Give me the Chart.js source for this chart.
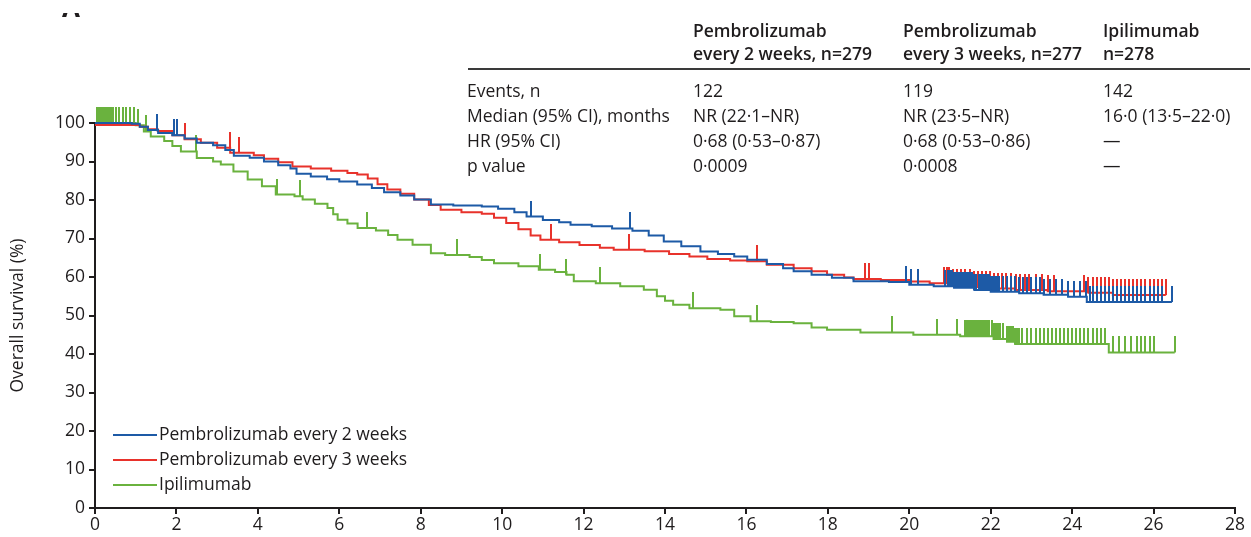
<!DOCTYPE html>
<html>
<head>
<meta charset="utf-8">
<script src="https://cdn.jsdelivr.net/npm/chart.js@4.4.1/dist/chart.umd.min.js"></script>
<style>
body { margin: 0; background: #fff; }
#wrap { position: relative; width: 1251px; height: 537px; overflow: hidden; font-family: "Open Sans", sans-serif; color: #1f1c1d; }
#wrap canvas { position: absolute; left: 0; top: 0; }
.t { position: absolute; white-space: nowrap; font-size: 17.5px; line-height: 25px; }
.h { font-weight: 600; }
.rule { position: absolute; left: 468px; width: 782px; top: 68px; height: 2px; background: #3a3a3a; }
.leg { position: absolute; left: 113px; white-space: nowrap; font-size: 17.5px; line-height: 25px; }
.leg i { display: inline-block; width: 44px; height: 2px; vertical-align: middle; margin-right: 2px; }
.panel { position: absolute; left: 58px; top: 13px; width: 40px; height: 4px; overflow: hidden; }
.panel span { position: absolute; left: 4px; top: -19px; font: 700 26px "Open Sans", sans-serif; line-height: 26px; }
</style>
</head>
<body>
<div id="wrap">
  <canvas id="osChart" width="1251" height="537"></canvas>
  <div class="panel"><span>A</span></div>
  <div id="table"></div>
  <div id="legend"></div>
</div>
<script>
// months, overall survival (%) after each step
const q2wSteps = [[0,100],[0.9,99.8],[1.1,99.0],[1.3,98.2],[1.55,97.4],[1.9,96.8],[2.2,96.0],[2.5,94.9],[2.9,94.2],[3.2,93.0],[3.41,91.5],[3.8,91.0],[4.15,90.0],[4.5,89.0],[4.8,88.2],[4.95,86.8],[5.3,86.1],[5.7,85.4],[6.0,84.8],[6.44,84.0],[6.8,83.1],[7.1,82.0],[7.5,81.2],[7.84,80.1],[8.25,78.8],[8.8,78.6],[9.5,78.3],[9.9,77.7],[10.3,76.8],[10.6,75.7],[11.0,74.8],[11.4,74.2],[11.68,73.6],[12.2,73.2],[12.7,72.6],[13.2,72.0],[13.6,70.8],[13.97,69.2],[14.4,68.0],[14.87,66.6],[15.3,66.0],[15.7,65.3],[16.02,64.5],[16.5,63.4],[16.9,62.3],[17.16,61.5],[17.6,60.6],[18.1,59.8],[18.63,58.9],[19.5,58.7],[20.0,58.0],[20.6,57.6],[21.1,57.2],[21.6,56.6],[22.0,56.2],[22.7,55.8],[23.3,55.4],[23.9,54.9],[24.36,53.5],[26.45,53.5]];
const q3wSteps = [[0,99.5],[1.1,99.0],[1.3,98.4],[1.54,97.9],[1.9,96.8],[2.2,95.8],[2.6,94.9],[3.0,93.6],[3.32,92.3],[3.9,91.6],[4.15,90.7],[4.5,89.8],[4.85,88.7],[5.3,88.2],[5.8,87.6],[6.2,87.0],[6.44,86.6],[6.7,85.6],[6.94,84.1],[7.18,82.7],[7.5,81.6],[7.84,80.1],[8.2,78.7],[8.49,77.5],[9.0,76.8],[9.5,76.4],[9.8,75.4],[10.1,74.0],[10.4,72.4],[10.7,70.8],[10.94,69.7],[11.4,69.0],[11.9,68.3],[12.4,67.6],[12.74,67.1],[13.5,66.7],[14.1,66.0],[14.6,65.3],[15.04,64.7],[15.6,64.3],[16.02,64.1],[16.5,63.2],[17.16,62.3],[17.6,61.5],[17.98,60.6],[18.4,59.9],[18.63,59.5],[19.3,59.2],[20.0,58.8],[20.5,58.4],[21.0,57.8],[21.5,57.4],[22.0,57.0],[22.6,56.6],[23.4,56.3],[24.4,55.9],[25.0,55.3],[26.3,55.3]];
const ipiSteps = [[0,100],[1.0,99.4],[1.2,97.8],[1.37,96.5],[1.7,95.3],[1.9,94.0],[2.11,92.6],[2.5,90.9],[2.9,90.0],[3.09,89.2],[3.4,87.4],[3.75,85.3],[4.1,83.6],[4.44,81.4],[4.9,81.0],[5.1,80.1],[5.4,79.0],[5.71,77.9],[5.85,76.3],[5.96,74.9],[6.2,73.9],[6.45,72.7],[6.9,72.1],[7.2,70.9],[7.43,69.7],[7.8,68.4],[8.25,66.2],[8.6,65.7],[9.2,65.2],[9.5,64.4],[9.8,63.6],[10.4,62.8],[10.9,61.9],[11.3,61.3],[11.58,60.6],[11.76,58.9],[12.3,58.4],[12.9,57.6],[13.48,56.7],[13.8,55.0],[14.0,53.8],[14.2,52.8],[14.6,51.9],[15.36,51.5],[15.7,49.8],[16.1,48.5],[16.6,48.3],[17.16,48.0],[17.6,46.9],[17.98,46.3],[18.8,45.6],[20.1,45.0],[21.25,44.6],[22.07,43.9],[22.4,43.2],[22.6,42.6],[24.9,40.4],[26.52,40.4]];

// censoring times (months)
const q2wCensored = [1.52,1.93,2.02,10.72,13.13,19.93,20.03,20.22,20.88,20.95,21.0,21.05,21.1,21.15,21.2,21.25,21.3,21.35,21.4,21.45,21.5,21.55,21.6,21.65,21.7,21.75,21.8,21.85,21.9,21.95,22.0,22.05,22.1,22.15,22.2,22.3,22.4,22.5,22.6,22.7,22.8,22.9,23.0,23.1,23.2,23.3,23.45,23.6,23.75,23.9,24.05,24.2,24.35,24.45,24.5,24.6,24.7,24.8,24.9,25.0,25.1,25.2,25.3,25.4,25.5,25.6,25.7,25.8,25.9,26.0,26.1,26.2,26.45];
const q3wCensored = [2.2,3.31,3.53,11.19,13.11,16.25,18.92,19.0,20.85,20.92,20.98,21.08,21.18,21.28,21.38,21.48,21.58,21.68,21.78,21.88,21.98,22.08,22.18,22.28,22.38,22.5,22.62,22.72,22.85,22.95,23.1,23.25,23.4,23.55,24.3,24.4,24.5,24.6,24.7,24.8,24.9,25.0,25.1,25.2,25.3,25.4,25.5,25.6,25.7,25.8,25.9,26.0,26.1,26.2,26.3];
const ipiCensored = [0.05,0.1,0.15,0.2,0.25,0.3,0.35,0.4,0.45,0.52,0.6,0.68,0.76,0.85,0.95,1.05,1.25,2.48,4.46,5.03,6.68,8.9,10.93,11.58,12.4,14.68,16.25,19.57,20.67,21.17,21.37,21.42,21.47,21.52,21.57,21.62,21.67,21.72,21.77,21.82,21.87,21.92,21.97,22.02,22.07,22.12,22.17,22.22,22.3,22.4,22.45,22.5,22.55,22.6,22.65,22.7,22.78,22.9,23.0,23.1,23.2,23.3,23.4,23.5,23.6,23.7,23.8,23.9,24.0,24.1,24.2,24.3,24.4,24.5,24.6,24.7,24.8,25.0,25.15,25.3,25.45,25.6,25.7,25.8,25.9,26.0,26.52];

const seriesNames = ['Pembrolizumab every 2 weeks', 'Pembrolizumab every 3 weeks', 'Ipilimumab'];
const seriesColors = ['#1d5aa6', '#e8322b', '#6ab23e'];

const xTickValues = [0,2,4,6,8,10,12,14,16,18,20,22,24,26,28];
const yTickValues = [0,10,20,30,40,50,60,70,80,90,100];
const yAxisTitle = 'Overall survival (%)';

// summary table
const tableHeaders = [['Pembrolizumab', 'every 2 weeks, n=279'], ['Pembrolizumab', 'every 3 weeks, n=277'], ['Ipilimumab', 'n=278']];
const tableRowLabels = ['Events, n', 'Median (95% CI), months', 'HR (95% CI)', 'p value'];
const q2wColumn = ['122', 'NR (22·1–NR)', '0·68 (0·53–0·87)', '0·0009'];
const q3wColumn = ['119', 'NR (23·5–NR)', '0·68 (0·53–0·86)', '0·0008'];
const ipiColumn = ['142', '16·0 (13·5–22·0)', '—', '—'];

function survivalAt(steps, t) {
    let s = steps[0][1];
    for (const [x, y] of steps) { if (x <= t) s = y; }
    return s;
}

// upward censor tick: only the top half of the image is painted
function censorMark(color, h) {
    const c = document.createElement('canvas');
    c.width = 2; c.height = h * 2;
    const g = c.getContext('2d');
    g.fillStyle = color;
    g.fillRect(0, 0, 2, h);
    return c;
}

function curve(steps, color) {
    return {
        data: steps.map(([x, y]) => ({x: x, y: y})),
        stepped: 'before',
        borderColor: color,
        borderWidth: 2,
        pointRadius: 0,
        fill: false,
        clip: false
    };
}

function censors(steps, times, color) {
    return {
        data: times.map(t => ({x: t, y: survivalAt(steps, t)})),
        showLine: false,
        pointStyle: censorMark(color, 16),
        pointRadius: 8,
        clip: false
    };
}

function buildTable() {
    const cols = [467, 693, 903, 1103];
    const rowY = [78, 103, 128, 153];
    let html = '';
    tableHeaders.forEach((h, i) => {
        html += '<div class="t h" style="left:' + cols[i + 1] + 'px;top:18px">' + h[0] + '</div>';
        html += '<div class="t h" style="left:' + cols[i + 1] + 'px;top:41px">' + h[1] + '</div>';
    });
    html += '<div class="rule"></div>';
    [tableRowLabels, q2wColumn, q3wColumn, ipiColumn].forEach((col, c) => {
        col.forEach((txt, r) => {
            html += '<div class="t" style="left:' + cols[c] + 'px;top:' + rowY[r] + 'px">' + txt + '</div>';
        });
    });
    document.getElementById('table').innerHTML = html;

    let leg = '';
    seriesNames.forEach((n, i) => {
        leg += '<div class="leg" style="top:' + (421 + i * 25) + 'px"><i style="background:' + seriesColors[i] + '"></i>' + n + '</div>';
    });
    document.getElementById('legend').innerHTML = leg;
}

function createSurvivalChart() {
    const ink = '#1f1c1d';
    const ctx = document.getElementById('osChart').getContext('2d');
    new Chart(ctx, {
        type: 'line',
        data: {
            datasets: [
                curve(q2wSteps, seriesColors[0]),
                censors(q2wSteps, q2wCensored, seriesColors[0]),
                curve(q3wSteps, seriesColors[1]),
                censors(q3wSteps, q3wCensored, seriesColors[1]),
                curve(ipiSteps, seriesColors[2]),
                censors(ipiSteps, ipiCensored, seriesColors[2])
            ]
        },
        options: {
            responsive: false,
            animation: false,
            events: [],
            layout: { padding: { top: 123, right: 16, left: 0, bottom: 0 } },
            plugins: { legend: { display: false }, tooltip: { enabled: false } },
            scales: {
                x: {
                    type: 'linear',
                    min: 0,
                    max: 28,
                    border: { color: ink, width: 2 },
                    grid: { drawOnChartArea: false, drawTicks: true, tickLength: 6, color: ink, lineWidth: 2 },
                    ticks: { color: ink, font: { family: 'Open Sans', size: 17.5 }, padding: 1, maxRotation: 0 },
                    afterBuildTicks: s => { s.ticks = xTickValues.map(v => ({value: v})); },
                    afterFit: s => { s.height = 29; }
                },
                y: {
                    type: 'linear',
                    min: 0,
                    max: 100,
                    border: { color: ink, width: 2 },
                    grid: { drawOnChartArea: false, drawTicks: true, tickLength: 6, color: ink, lineWidth: 2 },
                    ticks: { color: ink, font: { family: 'Open Sans', size: 17.5 }, padding: 4 },
                    afterBuildTicks: s => { s.ticks = yTickValues.map(v => ({value: v})); },
                    title: { display: true, text: yAxisTitle, color: ink, font: { family: 'Open Sans', size: 17.5 }, padding: { top: 8, bottom: 0 } },
                    afterFit: s => { s.width = 95; }
                }
            }
        }
    });
}

document.addEventListener('DOMContentLoaded', function() {
    buildTable();
    createSurvivalChart();
});
</script>
</body>
</html>
